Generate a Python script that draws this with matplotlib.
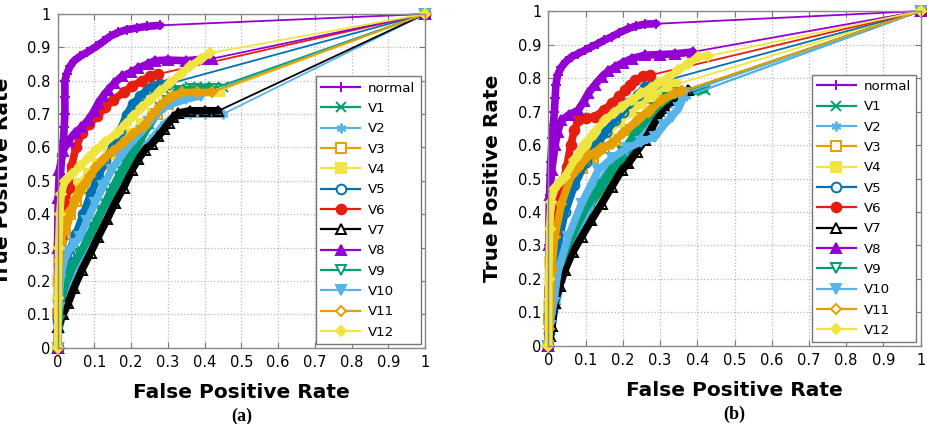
import matplotlib.pyplot as plt
from matplotlib.lines import Line2D

# ROC curves, (FPR, TPR) pairs, last point is (1, 1)
NAMES = ['normal', 'V1', 'V2', 'V3', 'V4', 'V5', 'V6', 'V7', 'V8', 'V9', 'V10', 'V11', 'V12']

A_NORMAL = [(0, 0), (0.002, 0.3), (0.004, 0.45), (0.008, 0.52), (0.012, 0.58), (0.016, 0.62), (0.018, 0.66),
            (0.02, 0.7), (0.02, 0.75), (0.02, 0.8), (0.025, 0.82), (0.034, 0.843), (0.045, 0.86), (0.061, 0.873),
            (0.08, 0.885), (0.106, 0.903), (0.125, 0.918), (0.143, 0.933), (0.165, 0.945), (0.188, 0.953),
            (0.215, 0.958), (0.243, 0.963), (0.28, 0.966), (1, 1)]
A_V1 = [(0, 0), (0.003, 0.06), (0.006, 0.12), (0.012, 0.17), (0.025, 0.21), (0.047, 0.25), (0.066, 0.29),
        (0.084, 0.333), (0.105, 0.38), (0.129, 0.433), (0.15, 0.48), (0.175, 0.533), (0.2, 0.58), (0.225, 0.63),
        (0.25, 0.67), (0.28, 0.72), (0.31, 0.755), (0.33, 0.775), (0.36, 0.78), (0.4, 0.78), (0.45, 0.78), (1, 1)]
A_V2 = [(0, 0), (0.004, 0.06), (0.012, 0.12), (0.03, 0.2), (0.05, 0.25), (0.075, 0.29), (0.1, 0.33),
        (0.125, 0.38), (0.15, 0.43), (0.175, 0.49), (0.2, 0.54), (0.23, 0.59), (0.26, 0.63), (0.29, 0.67),
        (0.32, 0.695), (0.36, 0.7), (0.4, 0.7), (0.45, 0.7), (1, 1)]
A_V3 = [(0, 0), (0.002, 0.1), (0.004, 0.2), (0.01, 0.28), (0.02, 0.34), (0.035, 0.4), (0.05, 0.44),
        (0.07, 0.48), (0.09, 0.51), (0.12, 0.55), (0.15, 0.58), (0.18, 0.61), (0.21, 0.64), (0.24, 0.67),
        (0.27, 0.7), (0.3, 0.73), (0.33, 0.755), (0.38, 0.765), (0.44, 0.77), (1, 1)]
A_V4 = [(0, 0), (0.002, 0.2), (0.005, 0.3), (0.01, 0.36), (0.02, 0.4), (0.04, 0.45), (0.06, 0.49),
        (0.085, 0.52), (0.11, 0.55), (0.14, 0.58), (0.17, 0.61), (0.2, 0.64), (0.23, 0.67), (0.26, 0.7),
        (0.29, 0.73), (0.32, 0.755), (0.36, 0.77), (0.44, 0.77), (1, 1)]
A_V5 = [(0, 0), (0.002, 0.08), (0.006, 0.15), (0.015, 0.22), (0.03, 0.28), (0.05, 0.34), (0.07, 0.4),
        (0.09, 0.46), (0.11, 0.51), (0.13, 0.56), (0.15, 0.6), (0.17, 0.65), (0.188, 0.698), (0.205, 0.73),
        (0.225, 0.753), (0.245, 0.775), (0.261, 0.783), (0.28, 0.79), (0.3, 0.79), (1, 1)]
A_V6 = [(0, 0), (0.002, 0.15), (0.005, 0.25), (0.01, 0.33), (0.016, 0.39), (0.022, 0.44), (0.03, 0.48),
        (0.038, 0.543), (0.05, 0.6), (0.066, 0.643), (0.085, 0.67), (0.107, 0.693), (0.13, 0.72),
        (0.152, 0.743), (0.18, 0.765), (0.202, 0.783), (0.23, 0.8), (0.252, 0.813), (0.274, 0.82), (1, 1)]
A_V7 = [(0, 0), (0.002, 0.063), (0.015, 0.1), (0.029, 0.133), (0.045, 0.18), (0.066, 0.233), (0.09, 0.285),
        (0.111, 0.333), (0.135, 0.385), (0.156, 0.433), (0.18, 0.48), (0.202, 0.533), (0.22, 0.565),
        (0.238, 0.593), (0.256, 0.61), (0.274, 0.633), (0.29, 0.655), (0.302, 0.673), (0.315, 0.69),
        (0.329, 0.703), (0.36, 0.71), (0.4, 0.71), (0.438, 0.71), (1, 1)]
A_V8 = [(0, 0), (0.0, 0.3), (0.002, 0.45), (0.005, 0.533), (0.015, 0.59), (0.03, 0.62), (0.047, 0.643),
        (0.065, 0.66), (0.084, 0.683), (0.1, 0.71), (0.111, 0.733), (0.125, 0.755), (0.138, 0.773),
        (0.155, 0.793), (0.175, 0.813), (0.2, 0.825), (0.22, 0.838), (0.245, 0.85), (0.265, 0.86),
        (0.3, 0.862), (0.35, 0.86), (0.4, 0.865), (0.42, 0.866), (1, 1)]
A_V9 = [(0, 0), (0.003, 0.08), (0.01, 0.15), (0.025, 0.2), (0.04, 0.24), (0.06, 0.28), (0.08, 0.32),
        (0.1, 0.36), (0.12, 0.41), (0.145, 0.46), (0.17, 0.51), (0.19, 0.55), (0.215, 0.6), (0.24, 0.65),
        (0.27, 0.7), (0.3, 0.74), (0.33, 0.77), (0.37, 0.775), (0.42, 0.775), (1, 1)]
A_V10 = [(0, 0), (0.003, 0.12), (0.008, 0.2), (0.018, 0.26), (0.03, 0.29), (0.045, 0.31), (0.061, 0.333),
         (0.08, 0.38), (0.102, 0.433), (0.125, 0.485), (0.147, 0.533), (0.17, 0.57), (0.19, 0.6),
         (0.21, 0.625), (0.23, 0.65), (0.25, 0.675), (0.27, 0.7), (0.29, 0.72), (0.31, 0.73), (0.35, 0.745),
         (0.39, 0.755), (1, 1)]
A_V11 = [(0, 0), (0.002, 0.15), (0.004, 0.26), (0.01, 0.32), (0.02, 0.37), (0.035, 0.41), (0.047, 0.443),
         (0.065, 0.48), (0.088, 0.513), (0.105, 0.54), (0.125, 0.563), (0.15, 0.59), (0.179, 0.613),
         (0.205, 0.64), (0.234, 0.663), (0.26, 0.7), (0.279, 0.723), (0.3, 0.745), (0.315, 0.755),
         (0.34, 0.765), (0.38, 0.765), (0.42, 0.765), (1, 1)]
A_V12 = [(0, 0), (0.001, 0.15), (0.003, 0.3), (0.006, 0.4), (0.01, 0.46), (0.02, 0.5), (0.04, 0.52),
         (0.061, 0.543), (0.085, 0.57), (0.106, 0.593), (0.13, 0.615), (0.161, 0.643), (0.185, 0.67),
         (0.206, 0.693), (0.23, 0.72), (0.252, 0.743), (0.28, 0.77), (0.306, 0.793), (0.335, 0.82),
         (0.361, 0.843), (0.39, 0.865), (0.415, 0.883), (1, 1)]

B_NORMAL = [(0, 0), (0.002, 0.3), (0.003, 0.45), (0.006, 0.55), (0.01, 0.62), (0.013, 0.66), (0.016, 0.7),
            (0.018, 0.74), (0.02, 0.78), (0.025, 0.81), (0.035, 0.833), (0.048, 0.85), (0.062, 0.863),
            (0.08, 0.873), (0.098, 0.883), (0.115, 0.893), (0.134, 0.903), (0.15, 0.913), (0.17, 0.923),
            (0.19, 0.935), (0.215, 0.948), (0.235, 0.955), (0.259, 0.961), (0.29, 0.962), (1, 1)]
B_V1 = [(0, 0), (0.004, 0.06), (0.015, 0.15), (0.035, 0.226), (0.071, 0.326), (0.116, 0.425), (0.15, 0.48),
        (0.179, 0.525), (0.21, 0.57), (0.24, 0.62), (0.27, 0.66), (0.3, 0.7), (0.33, 0.73), (0.36, 0.75),
        (0.39, 0.76), (0.42, 0.765), (1, 1)]
B_V2 = [(0, 0), (0.005, 0.05), (0.02, 0.12), (0.035, 0.2), (0.06, 0.28), (0.085, 0.35), (0.11, 0.42),
        (0.14, 0.49), (0.17, 0.54), (0.2, 0.58), (0.23, 0.62), (0.26, 0.65), (0.29, 0.69), (0.32, 0.72),
        (0.35, 0.74), (0.37, 0.745), (1, 1)]
B_V3 = [(0, 0), (0.002, 0.08), (0.005, 0.16), (0.01, 0.25), (0.02, 0.33), (0.04, 0.42), (0.065, 0.5),
        (0.09, 0.53), (0.12, 0.56), (0.15, 0.59), (0.18, 0.615), (0.21, 0.645), (0.245, 0.68), (0.275, 0.71),
        (0.305, 0.735), (0.33, 0.75), (1, 1)]
B_V4 = [(0, 0), (0.002, 0.12), (0.004, 0.25), (0.008, 0.35), (0.015, 0.42), (0.03, 0.46), (0.05, 0.5),
        (0.075, 0.54), (0.1, 0.575), (0.13, 0.61), (0.16, 0.64), (0.19, 0.67), (0.22, 0.7), (0.25, 0.725),
        (0.28, 0.75), (0.31, 0.77), (0.34, 0.78), (1, 1)]
B_V5 = [(0, 0), (0.002, 0.04), (0.005, 0.1), (0.012, 0.2), (0.025, 0.3), (0.045, 0.4), (0.07, 0.48),
        (0.1, 0.55), (0.13, 0.6), (0.155, 0.64), (0.179, 0.674), (0.2, 0.7), (0.215, 0.724), (0.24, 0.75),
        (0.259, 0.773), (0.277, 0.783), (0.29, 0.785), (1, 1)]
B_V6 = [(0, 0), (0.003, 0.15), (0.008, 0.25), (0.017, 0.336), (0.024, 0.39), (0.031, 0.435), (0.04, 0.49),
        (0.049, 0.535), (0.06, 0.6), (0.07, 0.645), (0.08, 0.674), (0.1, 0.68), (0.125, 0.684), (0.15, 0.705),
        (0.17, 0.724), (0.19, 0.745), (0.206, 0.764), (0.22, 0.78), (0.233, 0.793), (0.255, 0.806),
        (0.272, 0.808), (1, 1)]
B_V7 = [(0, 0), (0.003, 0.03), (0.01, 0.06), (0.017, 0.127), (0.03, 0.18), (0.044, 0.226), (0.065, 0.28),
        (0.089, 0.326), (0.115, 0.375), (0.143, 0.425), (0.17, 0.475), (0.197, 0.525), (0.215, 0.545),
        (0.237, 0.58), (0.259, 0.614), (0.277, 0.65), (0.295, 0.684), (0.313, 0.71), (0.331, 0.734),
        (0.35, 0.75), (0.375, 0.764), (1, 1)]
B_V8 = [(0, 0), (0.001, 0.3), (0.003, 0.45), (0.009, 0.525), (0.018, 0.6), (0.025, 0.64), (0.035, 0.674),
        (0.055, 0.69), (0.08, 0.704), (0.095, 0.73), (0.107, 0.754), (0.125, 0.78), (0.143, 0.803),
        (0.16, 0.82), (0.179, 0.833), (0.2, 0.846), (0.224, 0.858), (0.259, 0.868), (0.3, 0.87),
        (0.34, 0.872), (0.389, 0.878), (1, 1)]
B_V9 = [(0, 0), (0.003, 0.08), (0.012, 0.16), (0.03, 0.24), (0.06, 0.32), (0.1, 0.41), (0.14, 0.48),
        (0.17, 0.53), (0.2, 0.58), (0.23, 0.63), (0.26, 0.67), (0.29, 0.71), (0.32, 0.74), (0.35, 0.755),
        (1, 1)]
B_V10 = [(0, 0), (0.003, 0.06), (0.014, 0.127), (0.026, 0.226), (0.053, 0.326), (0.089, 0.425),
         (0.134, 0.525), (0.17, 0.56), (0.21, 0.59), (0.25, 0.61), (0.286, 0.624), (0.31, 0.66),
         (0.331, 0.684), (0.35, 0.71), (0.36, 0.74), (0.365, 0.755), (1, 1)]
B_V11 = [(0, 0), (0.002, 0.05), (0.005, 0.127), (0.009, 0.226), (0.017, 0.326), (0.035, 0.425),
         (0.062, 0.51), (0.08, 0.53), (0.11, 0.57), (0.14, 0.59), (0.17, 0.604), (0.2, 0.635), (0.241, 0.674),
         (0.27, 0.7), (0.304, 0.734), (0.34, 0.754), (0.36, 0.76), (1, 1)]
B_V12 = [(0, 0), (0.001, 0.2), (0.003, 0.35), (0.007, 0.43), (0.015, 0.47), (0.03, 0.49), (0.044, 0.505),
         (0.07, 0.555), (0.098, 0.604), (0.125, 0.64), (0.152, 0.674), (0.175, 0.695), (0.197, 0.714),
         (0.225, 0.735), (0.25, 0.754), (0.275, 0.77), (0.295, 0.784), (0.32, 0.8), (0.349, 0.823),
         (0.375, 0.843), (0.403, 0.863), (0.43, 0.866), (1, 1)]

PANEL_A = [A_NORMAL, A_V1, A_V2, A_V3, A_V4, A_V5, A_V6, A_V7, A_V8, A_V9, A_V10, A_V11, A_V12]
PANEL_B = [B_NORMAL, B_V1, B_V2, B_V3, B_V4, B_V5, B_V6, B_V7, B_V8, B_V9, B_V10, B_V11, B_V12]

TICKS = [0, 0.1, 0.2, 0.3, 0.4, 0.5, 0.6, 0.7, 0.8, 0.9, 1]
TICK_LABELS = ['0', '0.1', '0.2', '0.3', '0.4', '0.5', '0.6', '0.7', '0.8', '0.9', '1']

# gnuplot default palette / point types
COLORS = ['#9400d3', '#009e73', '#56b4e9', '#e69f00', '#f0e442', '#0072b2', '#e51e10',
          '#000000', '#9400d3', '#009e73', '#56b4e9', '#e69f00', '#f0e442']
MARKERS = ['+', 'x', (6, 2, 0), 's', 's', 'o', 'o', '^', '^', 'v', 'v', 'D', 'D']
FILLED = [True, True, True, False, True, False, True, False, True, False, True, False, True]


def marker_style(i, ms, hollow='white'):
    m = MARKERS[i]
    size = ms * 0.8 if m == 'D' else ms
    face = COLORS[i] if FILLED[i] else hollow
    return dict(marker=m, markersize=size, markerfacecolor=face,
                markeredgecolor=COLORS[i], markeredgewidth=1.4)


def draw_panel(ax, curves, caption):
    for i, pts in enumerate(curves):
        xs = [p[0] for p in pts]
        ys = [p[1] for p in pts]
        # dense part of the curve
        ax.plot(xs[:-1], ys[:-1], color=COLORS[i], lw=5.5, solid_capstyle='round',
                solid_joinstyle='round', clip_on=False, **marker_style(i, 7, 'none'))
        # straight segment to (1, 1)
        ax.plot(xs[-2:], ys[-2:], color=COLORS[i], lw=1.3, markevery=[1], clip_on=False,
                **marker_style(i, 7))

    ax.set_xlim(0, 1)
    ax.set_ylim(0, 1)
    ax.set_xticks(TICKS)
    ax.set_xticklabels(TICK_LABELS)
    ax.set_yticks(TICKS)
    ax.set_yticklabels(TICK_LABELS)
    ax.tick_params(direction='in', top=True, right=True, length=4, width=0.8,
                   color='#777777', labelsize=10.5, pad=5)
    ax.grid(True, linestyle=':', color='#b8b8b8', lw=0.9)
    for s in ax.spines.values():
        s.set_color('#888888')
        s.set_linewidth(1.0)

    ax.set_xlabel('False Positive Rate', fontsize=14.5, fontweight='bold')
    ax.set_ylabel('True Positive Rate', fontsize=14.5, fontweight='bold')
    ax.xaxis.set_label_coords(0.5, -0.105)
    ax.yaxis.set_label_coords(-0.125, 0.5)

    handles = [Line2D([], [], color=COLORS[i], lw=1.6, **marker_style(i, 7)) for i in range(len(NAMES))]
    leg = ax.legend(handles, NAMES, loc='lower right', bbox_to_anchor=(0.988, 0.011),
                    borderaxespad=0, fontsize=9.6, labelspacing=0.55, handlelength=2.9,
                    handletextpad=0.6, borderpad=0.4, fancybox=False, framealpha=1)
    leg.get_frame().set_edgecolor('#777777')
    leg.get_frame().set_linewidth(1.0)

    ax.text(0.5, -0.205, caption, transform=ax.transAxes, ha='center', va='center',
            fontsize=13, fontweight='bold', family='Liberation Serif')


fig = plt.figure(figsize=(9.28, 4.24), dpi=100)
ax_a = fig.add_axes([0.062, 0.18, 0.396, 0.787])
ax_b = fig.add_axes([0.591, 0.184, 0.401, 0.79])

draw_panel(ax_a, PANEL_A, '(a)')
draw_panel(ax_b, PANEL_B, '(b)')

fig.savefig('out.png', dpi=100)
